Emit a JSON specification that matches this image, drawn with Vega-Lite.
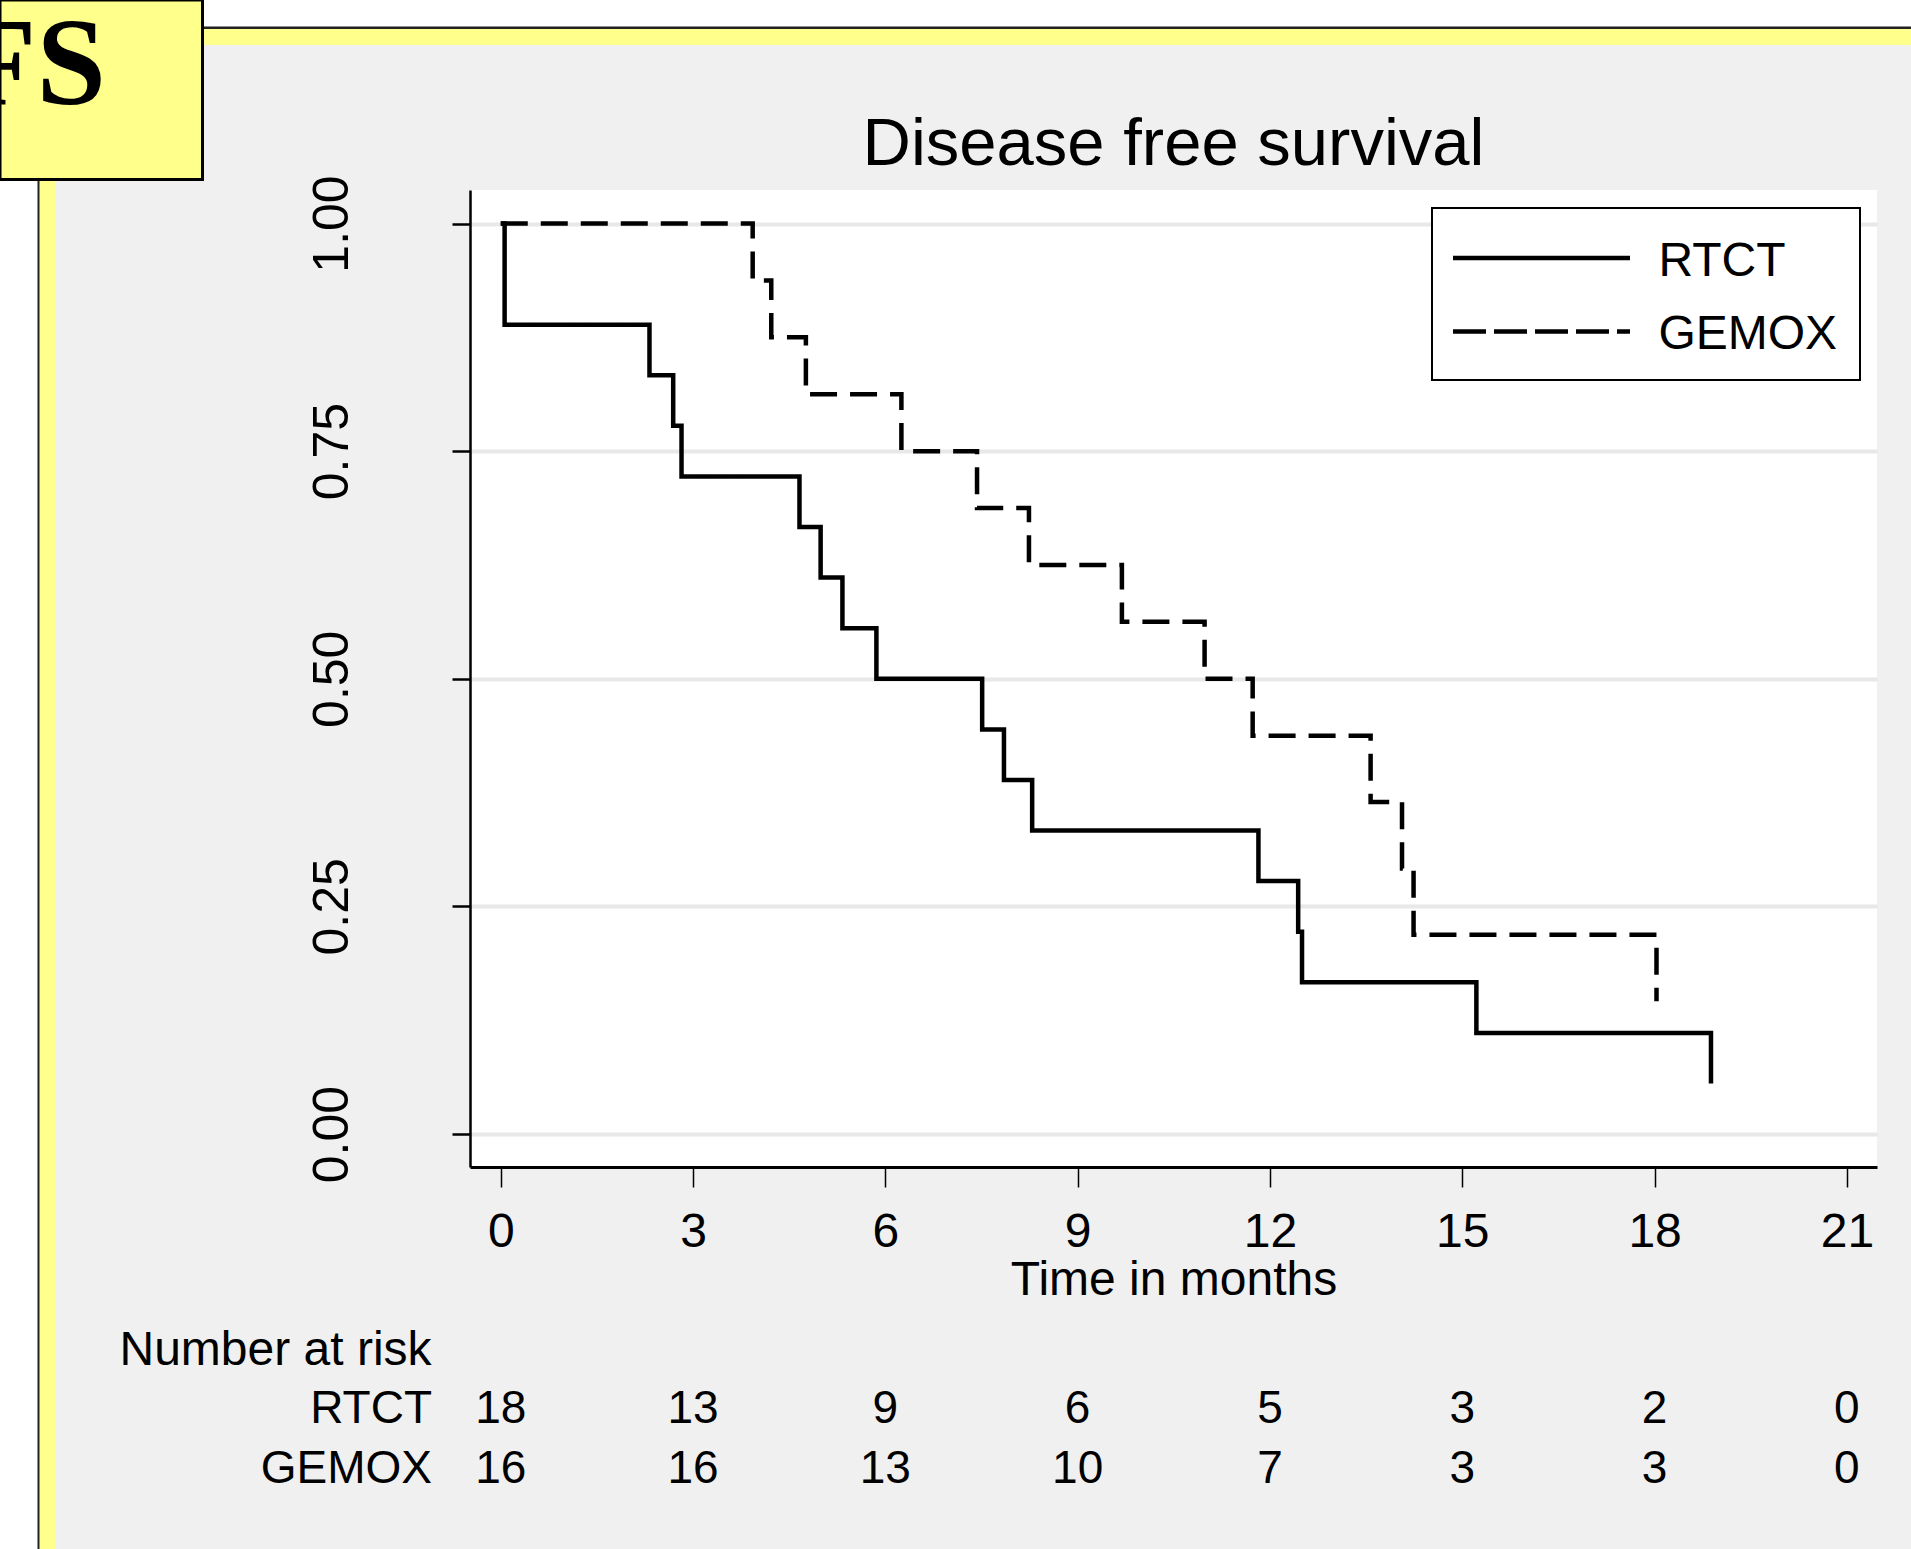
{
  "$schema": "https://vega.github.io/schema/vega-lite/v6.json",
  "width": 1407,
  "height": 977,
  "autosize": {"type": "none"},
  "padding": {"left": 470, "top": 190, "right": 34, "bottom": 382},
  "background": "#f0f0f0",
  "title": {"text": "Disease free survival", "fontSize": 67, "fontWeight": "normal", "font": "Liberation Sans", "color": "black", "anchor": "middle", "frame": "group", "offset": 0, "dy": 234, "baseline": "alphabetic"},
  "config": {
    "view": {"fill": "white", "stroke": null},
    "axis": {"domainColor": "black", "tickColor": "black", "labelColor": "black", "titleColor": "black", "labelFont": "Liberation Sans", "titleFont": "Liberation Sans", "labelOverlap": false, "labelFlush": false},
    "axisX": {"domainWidth": 3, "tickWidth": 1.5, "tickSize": 20, "labelFontSize": 48, "labelPadding": 21, "titleFontSize": 48, "titleFontWeight": "normal", "titlePadding": 0, "grid": false},
    "axisY": {"domainWidth": 2.5, "tickWidth": 2.5, "tickSize": 18, "labelFontSize": 50, "labelAngle": 270, "labelAlign": "center", "labelBaseline": "alphabetic", "labelPadding": 105, "grid": true, "gridWidth": 4, "gridColor": "#e8e8e8"},
    "text": {"font": "Liberation Sans", "color": "black"}
  },
  "datasets": {
    "km": [
      {"group": "RTCT", "time": 0, "surv": 1},
      {"group": "RTCT", "time": 0.06, "surv": 0.8889},
      {"group": "RTCT", "time": 2.32, "surv": 0.8333},
      {"group": "RTCT", "time": 2.69, "surv": 0.7778},
      {"group": "RTCT", "time": 2.82, "surv": 0.7222},
      {"group": "RTCT", "time": 4.66, "surv": 0.6667},
      {"group": "RTCT", "time": 4.99, "surv": 0.6111},
      {"group": "RTCT", "time": 5.33, "surv": 0.5556},
      {"group": "RTCT", "time": 5.86, "surv": 0.5},
      {"group": "RTCT", "time": 7.51, "surv": 0.4444},
      {"group": "RTCT", "time": 7.85, "surv": 0.3889},
      {"group": "RTCT", "time": 8.29, "surv": 0.3333},
      {"group": "RTCT", "time": 11.82, "surv": 0.2778},
      {"group": "RTCT", "time": 12.44, "surv": 0.2222},
      {"group": "RTCT", "time": 12.5, "surv": 0.1667},
      {"group": "RTCT", "time": 15.22, "surv": 0.1111},
      {"group": "RTCT", "time": 18.88, "surv": 0.0556},
      {"group": "GEMOX", "time": 0, "surv": 1},
      {"group": "GEMOX", "time": 3.93, "surv": 0.9375},
      {"group": "GEMOX", "time": 4.22, "surv": 0.875},
      {"group": "GEMOX", "time": 4.76, "surv": 0.8125},
      {"group": "GEMOX", "time": 6.25, "surv": 0.75},
      {"group": "GEMOX", "time": 7.43, "surv": 0.6875},
      {"group": "GEMOX", "time": 8.24, "surv": 0.625},
      {"group": "GEMOX", "time": 9.69, "surv": 0.5625},
      {"group": "GEMOX", "time": 10.98, "surv": 0.5},
      {"group": "GEMOX", "time": 11.73, "surv": 0.4375},
      {"group": "GEMOX", "time": 13.57, "surv": 0.3646},
      {"group": "GEMOX", "time": 14.06, "surv": 0.2917},
      {"group": "GEMOX", "time": 14.24, "surv": 0.2188},
      {"group": "GEMOX", "time": 18.03, "surv": 0.1458}
    ],
    "risk": [
      {"group": "RTCT", "time": 0, "n": 18},
      {"group": "RTCT", "time": 3, "n": 13},
      {"group": "RTCT", "time": 6, "n": 9},
      {"group": "RTCT", "time": 9, "n": 6},
      {"group": "RTCT", "time": 12, "n": 5},
      {"group": "RTCT", "time": 15, "n": 3},
      {"group": "RTCT", "time": 18, "n": 2},
      {"group": "RTCT", "time": 21, "n": 0},
      {"group": "GEMOX", "time": 0, "n": 16},
      {"group": "GEMOX", "time": 3, "n": 16},
      {"group": "GEMOX", "time": 6, "n": 13},
      {"group": "GEMOX", "time": 9, "n": 10},
      {"group": "GEMOX", "time": 12, "n": 7},
      {"group": "GEMOX", "time": 15, "n": 3},
      {"group": "GEMOX", "time": 18, "n": 3},
      {"group": "GEMOX", "time": 21, "n": 0}
    ]
  },
  "layer": [
    {
      "data": {"values": [{}]},
      "mark": {"type": "rect", "fill": "white"},
      "encoding": {
        "x": {"datum": -7.812, "type": "quantitative", "scale": {"domain": [-0.48, 21.47], "nice": false, "zero": false}},
        "x2": {"datum": 22.0},
        "y": {"datum": 1.2455, "type": "quantitative", "scale": {"domain": [-0.0362, 1.0368], "nice": false, "zero": false}},
        "y2": {"datum": 1.216}
      }
    },
    {
      "data": {"values": [{}]},
      "mark": {"type": "rect", "fill": "white"},
      "encoding": {
        "x": {"datum": -7.812, "type": "quantitative", "scale": {"domain": [-0.48, 21.47], "nice": false, "zero": false}},
        "x2": {"datum": -7.2195},
        "y": {"datum": 1.2455, "type": "quantitative", "scale": {"domain": [-0.0362, 1.0368], "nice": false, "zero": false}},
        "y2": {"datum": -0.4558}
      }
    },
    {
      "data": {"values": [{}]},
      "mark": {"type": "rect", "fill": "#ffff8c"},
      "encoding": {
        "x": {"datum": -7.1961, "type": "quantitative", "scale": {"domain": [-0.48, 21.47], "nice": false, "zero": false}},
        "x2": {"datum": 22.0},
        "y": {"datum": 1.2136, "type": "quantitative", "scale": {"domain": [-0.0362, 1.0368], "nice": false, "zero": false}},
        "y2": {"datum": 1.1961}
      }
    },
    {
      "data": {"values": [{}]},
      "mark": {"type": "rect", "fill": "#ffff8c"},
      "encoding": {
        "x": {"datum": -7.1961, "type": "quantitative", "scale": {"domain": [-0.48, 21.47], "nice": false, "zero": false}},
        "x2": {"datum": -6.9543},
        "y": {"datum": 1.2136, "type": "quantitative", "scale": {"domain": [-0.0362, 1.0368], "nice": false, "zero": false}},
        "y2": {"datum": -0.4558}
      }
    },
    {
      "data": {"values": [{}]},
      "mark": {"type": "rule", "stroke": "#222222", "strokeWidth": 2.5},
      "encoding": {
        "x": {"datum": -7.22, "type": "quantitative", "scale": {"domain": [-0.48, 21.47], "nice": false, "zero": false}},
        "x2": {"datum": 22.0},
        "y": {"datum": 1.2149, "type": "quantitative", "scale": {"domain": [-0.0362, 1.0368], "nice": false, "zero": false}}
      }
    },
    {
      "data": {"values": [{}]},
      "mark": {"type": "rule", "stroke": "#222222", "strokeWidth": 2},
      "encoding": {
        "x": {"datum": -7.2117, "type": "quantitative", "scale": {"domain": [-0.48, 21.47], "nice": false, "zero": false}},
        "y": {"datum": 1.216, "type": "quantitative", "scale": {"domain": [-0.0362, 1.0368], "nice": false, "zero": false}},
        "y2": {"datum": -0.4558}
      }
    },
    {
      "data": {"values": [{}]},
      "mark": {"type": "rect", "fill": "#ffff8c", "stroke": "black", "strokeWidth": 3},
      "encoding": {
        "x": {"datum": -7.812, "type": "quantitative", "scale": {"domain": [-0.48, 21.47], "nice": false, "zero": false}},
        "x2": {"datum": -4.6532},
        "y": {"datum": 1.2455, "type": "quantitative", "scale": {"domain": [-0.0362, 1.0368], "nice": false, "zero": false}},
        "y2": {"datum": 1.0483}
      }
    },
    {
      "data": {"values": [{}]},
      "mark": {"type": "text", "text": "DFS", "font": "Liberation Serif", "fontWeight": "bold", "fontSize": 125, "align": "right", "baseline": "alphabetic", "color": "black"},
      "encoding": {
        "x": {"datum": -6.1586, "type": "quantitative", "scale": {"domain": [-0.48, 21.47], "nice": false, "zero": false}},
        "y": {"datum": 1.1313, "type": "quantitative", "scale": {"domain": [-0.0362, 1.0368], "nice": false, "zero": false}}
      }
    },
    {
      "data": {"name": "km"},
      "mark": {"type": "line", "interpolate": "step-after", "color": "black", "strokeWidth": 4.5},
      "encoding": {
        "x": {"field": "time", "type": "quantitative", "title": "Time in months", "scale": {"domain": [-0.48, 21.47], "nice": false, "zero": false}, "axis": {"values": [0, 3, 6, 9, 12, 15, 18, 21], "format": "d"}},
        "y": {"field": "surv", "type": "quantitative", "title": null, "scale": {"domain": [-0.0362, 1.0368], "nice": false, "zero": false}, "axis": {"values": [0, 0.25, 0.5, 0.75, 1], "format": ".2f"}},
        "strokeDash": {"field": "group", "type": "nominal", "scale": {"domain": ["RTCT", "GEMOX"], "range": [[1, 0], [27, 13]]}, "legend": null}
      }
    },
    {
      "data": {"values": [{}]},
      "mark": {"type": "rect", "fill": "white", "stroke": "black", "strokeWidth": 2},
      "encoding": {
        "x": {"datum": 14.5278, "type": "quantitative", "scale": {"domain": [-0.48, 21.47], "nice": false, "zero": false}},
        "x2": {"datum": 21.2049},
        "y": {"datum": 1.017, "type": "quantitative", "scale": {"domain": [-0.0362, 1.0368], "nice": false, "zero": false}},
        "y2": {"datum": 0.8281}
      }
    },
    {
      "data": {"values": [{}]},
      "mark": {"type": "rule", "stroke": "black", "strokeWidth": 4.5},
      "encoding": {
        "x": {"datum": 14.8554, "type": "quantitative", "scale": {"domain": [-0.48, 21.47], "nice": false, "zero": false}},
        "x2": {"datum": 17.6167},
        "y": {"datum": 0.9621, "type": "quantitative", "scale": {"domain": [-0.0362, 1.0368], "nice": false, "zero": false}}
      }
    },
    {
      "data": {"values": [{}]},
      "mark": {"type": "rule", "stroke": "black", "strokeWidth": 4.5, "strokeDash": [33, 8]},
      "encoding": {
        "x": {"datum": 14.8554, "type": "quantitative", "scale": {"domain": [-0.48, 21.47], "nice": false, "zero": false}},
        "x2": {"datum": 17.6167},
        "y": {"datum": 0.8814, "type": "quantitative", "scale": {"domain": [-0.0362, 1.0368], "nice": false, "zero": false}}
      }
    },
    {
      "data": {"values": [{}]},
      "mark": {"type": "text", "text": "RTCT", "fontSize": 48, "align": "left", "baseline": "middle"},
      "encoding": {
        "x": {"datum": 18.06, "type": "quantitative", "scale": {"domain": [-0.48, 21.47], "nice": false, "zero": false}},
        "y": {"datum": 0.9577, "type": "quantitative", "scale": {"domain": [-0.0362, 1.0368], "nice": false, "zero": false}}
      }
    },
    {
      "data": {"values": [{}]},
      "mark": {"type": "text", "text": "GEMOX", "fontSize": 48, "align": "left", "baseline": "middle"},
      "encoding": {
        "x": {"datum": 18.06, "type": "quantitative", "scale": {"domain": [-0.48, 21.47], "nice": false, "zero": false}},
        "y": {"datum": 0.8775, "type": "quantitative", "scale": {"domain": [-0.0362, 1.0368], "nice": false, "zero": false}}
      }
    },
    {
      "data": {"values": [{}]},
      "mark": {"type": "text", "text": "Number at risk", "fontSize": 48, "align": "left", "baseline": "alphabetic"},
      "encoding": {
        "x": {"datum": -5.948, "type": "quantitative", "scale": {"domain": [-0.48, 21.47], "nice": false, "zero": false}},
        "y": {"datum": -0.2537, "type": "quantitative", "scale": {"domain": [-0.0362, 1.0368], "nice": false, "zero": false}}
      }
    },
    {
      "data": {"values": [{}]},
      "mark": {"type": "text", "text": "RTCT", "fontSize": 46, "align": "right", "baseline": "alphabetic"},
      "encoding": {
        "x": {"datum": -1.073, "type": "quantitative", "scale": {"domain": [-0.48, 21.47], "nice": false, "zero": false}},
        "y": {"datum": -0.3174, "type": "quantitative", "scale": {"domain": [-0.0362, 1.0368], "nice": false, "zero": false}}
      }
    },
    {
      "data": {"values": [{}]},
      "mark": {"type": "text", "text": "GEMOX", "fontSize": 46, "align": "right", "baseline": "alphabetic"},
      "encoding": {
        "x": {"datum": -1.073, "type": "quantitative", "scale": {"domain": [-0.48, 21.47], "nice": false, "zero": false}},
        "y": {"datum": -0.3833, "type": "quantitative", "scale": {"domain": [-0.0362, 1.0368], "nice": false, "zero": false}}
      }
    },
    {
      "data": {"name": "risk"},
      "transform": [{"filter": "datum.group === 'RTCT'"}],
      "mark": {"type": "text", "fontSize": 46, "align": "center", "baseline": "alphabetic"},
      "encoding": {
        "x": {"field": "time", "type": "quantitative", "scale": {"domain": [-0.48, 21.47], "nice": false, "zero": false}},
        "y": {"datum": -0.3174, "type": "quantitative", "scale": {"domain": [-0.0362, 1.0368], "nice": false, "zero": false}},
        "text": {"field": "n", "type": "quantitative"}
      }
    },
    {
      "data": {"name": "risk"},
      "transform": [{"filter": "datum.group === 'GEMOX'"}],
      "mark": {"type": "text", "fontSize": 46, "align": "center", "baseline": "alphabetic"},
      "encoding": {
        "x": {"field": "time", "type": "quantitative", "scale": {"domain": [-0.48, 21.47], "nice": false, "zero": false}},
        "y": {"datum": -0.3833, "type": "quantitative", "scale": {"domain": [-0.0362, 1.0368], "nice": false, "zero": false}},
        "text": {"field": "n", "type": "quantitative"}
      }
    }
  ]
}
